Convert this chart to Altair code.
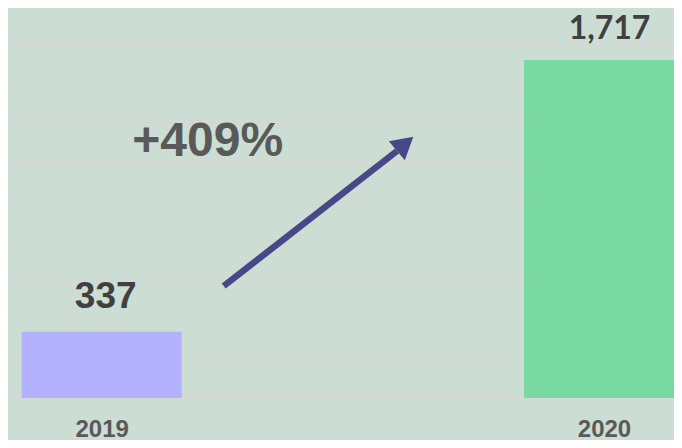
import altair as alt
import pandas as pd

# ---- data ----
years = [2019, 2020]
year_names = ["2019", "2020"]
counts = [337, 1717]
count_labels = ["337", "1,717"]
bar_colors = ["#B4B1FF", "#7AD9A1"]

change_text = ["+409%"]
change_x = [2019.211]
change_y = [1301]

arrow_x = [2019.243, 2019.588]
arrow_y = [569, 1255]
head_x = [2019.604]
head_y = [1292]

grid_values = [0, 200, 400, 600, 800, 1000, 1200, 1400, 1600, 1800]

BG = "#CCDDD3"

bars_df = pd.DataFrame({"year": years, "name": year_names, "count": counts, "label": count_labels})
change_df = pd.DataFrame({"year": change_x, "count": change_y, "t": change_text})
arrow_df = pd.DataFrame({"year": arrow_x, "count": arrow_y, "o": [0, 1]})
head_df = pd.DataFrame({"year": head_x, "count": head_y})

xscale = alt.Scale(domain=[2018.8235, 2020.1294], nice=False, zero=False)
yscale = alt.Scale(domain=[0, 1981.7], nice=False)

xaxis = alt.Axis(values=years, format="d", ticks=False, tickSize=0, domain=False,
                 grid=False, labelFont="Liberation Sans", labelFontSize=24,
                 labelFontWeight="bold", labelColor="#595959", labelPadding=31,
                 labelBaseline="middle", labelFlush=False, title=None)
yaxis = alt.Axis(values=grid_values, grid=True, labels=False, ticks=False,
                 domain=False, gridColor="#DAD5D5", gridWidth=1.5, title=None)

X = alt.X("year:Q", scale=xscale, axis=xaxis, title=None)
Y = alt.Y("count:Q", scale=yscale, axis=yaxis, title=None)

base = alt.Chart(bars_df)

bars = base.mark_bar(size=160).encode(
    x=X, y=Y,
    color=alt.Color("name:N", scale=alt.Scale(domain=year_names, range=bar_colors), legend=None),
)

lab2019 = base.transform_filter(alt.datum.year == 2019).mark_text(
    font="Liberation Sans", fontSize=37, fontWeight="bold", color="#404040",
    baseline="middle", align="center", dx=4, dy=-35
).encode(x=X, y=Y, text="label:N")

lab2020 = base.transform_filter(alt.datum.year == 2020).mark_text(
    font="Lato", fontSize=32, fontWeight="bold", color="#404040",
    baseline="middle", align="center", dx=5.5, dy=-31
).encode(x=X, y=Y, text="label:N")

change = alt.Chart(change_df).mark_text(
    font="Liberation Sans", fontSize=48, fontWeight="bold", color="#595959",
    baseline="middle", align="center"
).encode(x=X, y=Y, text="t:N")

arrow = alt.Chart(arrow_df).mark_line(strokeWidth=6.5, strokeCap="butt", color="#484889").encode(
    x=X, y=Y, order="o:Q",
)

head = alt.Chart(head_df).mark_point(shape="triangle-up", size=620, filled=True, opacity=1,
                                     angle=50, color="#484889").encode(x=X, y=Y)

chart = alt.layer(bars, lab2019, lab2020, change, arrow, head).properties(
    width=666, height=390,
    padding={"left": 0, "top": 0, "right": 0, "bottom": 42},
    autosize=alt.AutoSizeParams(type="none"),
    background=BG,
).configure_view(strokeWidth=0, fill=BG)

chart.save("out.html", embed_options={"renderer": "svg", "actions": False})
